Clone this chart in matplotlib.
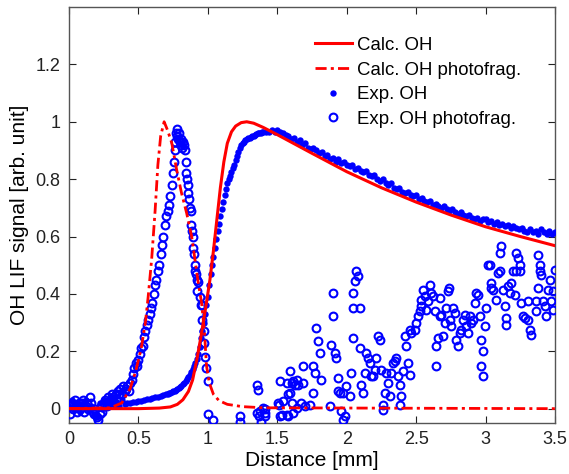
import numpy as np
import matplotlib
matplotlib.use("Agg")
import matplotlib.pyplot as plt

plt.rcParams['font.family'] = ['Liberation Sans', 'DejaVu Sans']

# calculated OH profile
calc_oh_x = [0.0, 0.5, 0.65, 0.73, 0.78, 0.82, 0.86, 0.89, 0.92, 0.95, 0.97, 0.99,
             1.015, 1.04, 1.065, 1.09, 1.115, 1.14, 1.17, 1.2, 1.24, 1.28, 1.33,
             1.4, 1.5, 1.75, 2.0, 2.25, 2.5, 2.75, 3.0, 3.25, 3.5]
calc_oh_y = [0.0, 0.0, 0.002, 0.006, 0.015, 0.031, 0.06, 0.10, 0.17, 0.25, 0.31, 0.37,
             0.45, 0.55, 0.66, 0.77, 0.86, 0.925, 0.965, 0.985, 0.997, 1.0, 0.995,
             0.98, 0.955, 0.89, 0.826, 0.77, 0.72, 0.675, 0.634, 0.6, 0.568]

# calculated OH from photofragmentation
calc_pf_x = [0.0, 0.30, 0.38, 0.44, 0.48, 0.52, 0.55, 0.57, 0.595, 0.62, 0.64, 0.66,
             0.685, 0.71, 0.74, 0.775, 0.81, 0.847, 0.883, 0.907, 0.931, 0.955, 0.975,
             0.99, 1.01, 1.04, 1.08, 1.14, 1.25, 1.40, 3.5]
calc_pf_y = [0.0, 0.003, 0.02, 0.07, 0.13, 0.21, 0.30, 0.39, 0.52, 0.69, 0.85, 0.95,
             1.0, 0.97, 0.926, 0.833, 0.752, 0.682, 0.601, 0.52, 0.438, 0.368, 0.27,
             0.15, 0.09, 0.05, 0.028, 0.015, 0.007, 0.003, 0.0]

# measured OH: 0-0.70 mm every 0.02, 0.71-1.40 every 0.01, 1.42-3.50 every 0.02
exp_oh_y1 = [0.01, 0.03, 0.0, 0.02, -0.01, 0.02, 0.03, 0.0, 0.01, -0.02, -0.03, 0.02,
             0.0, 0.03, 0.01, 0.02, 0.04, 0.02, 0.01, 0.03,
             0.015, 0.018, 0.02, 0.022, 0.024, 0.026, 0.028, 0.03, 0.032, 0.034,
             0.036, 0.039, 0.042, 0.045, 0.048, 0.05]
exp_oh_y2 = [0.052, 0.054, 0.056, 0.058, 0.06, 0.063, 0.066, 0.069, 0.072, 0.076,
             0.08, 0.085, 0.09, 0.096, 0.102, 0.11, 0.118, 0.128, 0.138, 0.148,
             0.16, 0.173, 0.19, 0.215, 0.245, 0.27, 0.30, 0.33, 0.36, 0.39,
             0.43, 0.47, 0.50, 0.53, 0.56, 0.59, 0.62, 0.645, 0.67, 0.695,
             0.72, 0.745, 0.765, 0.785, 0.80, 0.812, 0.825, 0.838, 0.85, 0.865,
             0.88, 0.895, 0.91, 0.918, 0.925, 0.93, 0.935, 0.94, 0.943, 0.945,
             0.948, 0.95, 0.952, 0.955, 0.957, 0.96, 0.962, 0.96, 0.963, 0.965]
exp_oh_y3 = [0.965, 0.965, 0.97, 0.965, 0.97, 0.965, 0.96, 0.955, 0.95, 0.94,
             0.945, 0.93, 0.935, 0.92, 0.925, 0.91, 0.905, 0.91, 0.90, 0.89,
             0.895, 0.88, 0.885, 0.87, 0.875, 0.86, 0.87, 0.855, 0.86, 0.85,
             0.845, 0.85, 0.835, 0.84, 0.83, 0.825, 0.83, 0.815, 0.81, 0.815,
             0.80, 0.795, 0.80, 0.785, 0.78, 0.785, 0.77, 0.765, 0.77, 0.755,
             0.75, 0.755, 0.745, 0.74, 0.745, 0.73, 0.735, 0.725, 0.72, 0.725,
             0.71, 0.715, 0.705, 0.70, 0.705, 0.695, 0.69, 0.695, 0.685, 0.68,
             0.685, 0.675, 0.67, 0.675, 0.665, 0.66, 0.665, 0.655, 0.66, 0.66,
             0.65, 0.655, 0.645, 0.65, 0.64, 0.645, 0.635, 0.64, 0.63, 0.635,
             0.63, 0.625, 0.63, 0.62, 0.615, 0.625, 0.615, 0.62, 0.61, 0.625,
             0.615, 0.61, 0.62, 0.61, 0.615]
exp_oh_x = np.concatenate([np.arange(len(exp_oh_y1)) * 0.02,
                           0.71 + np.arange(len(exp_oh_y2)) * 0.01,
                           1.42 + np.arange(len(exp_oh_y3)) * 0.02])
exp_oh_y = exp_oh_y1 + exp_oh_y2 + exp_oh_y3

# measured OH from photofragmentation
exp_pf_x = [0.0, 0.01, 0.02, 0.03, 0.04, 0.05, 0.06, 0.07, 0.08, 0.09, 0.10, 0.11,
            0.12, 0.13, 0.14, 0.15, 0.16, 0.17, 0.18, 0.19, 0.20, 0.21, 0.22, 0.23,
            0.24, 0.25, 0.26, 0.27, 0.28, 0.29, 0.30, 0.31, 0.32, 0.33, 0.34, 0.35,
            0.36, 0.37, 0.38, 0.39, 0.40,
            0.41, 0.42, 0.43, 0.44, 0.45, 0.46, 0.47, 0.48, 0.49, 0.50, 0.51, 0.52,
            0.53, 0.54, 0.55, 0.56, 0.57, 0.58, 0.59, 0.60, 0.61, 0.62, 0.63, 0.64,
            0.65, 0.66, 0.67, 0.68, 0.69, 0.70, 0.71, 0.72, 0.73, 0.74, 0.75, 0.755,
            0.76, 0.765, 0.77, 0.775, 0.78, 0.785, 0.79, 0.80, 0.805, 0.81, 0.815,
            0.82, 0.83, 0.835, 0.84, 0.845, 0.85, 0.855, 0.86, 0.865, 0.87, 0.875,
            0.88, 0.885, 0.89, 0.895, 0.90, 0.905, 0.91, 0.915, 0.92, 0.925, 0.93,
            0.94, 0.95, 0.96, 0.955, 0.975, 0.975, 0.98, 0.99, 1.0, 1.0, 1.04,
            1.228, 1.231, 1.351, 1.363, 1.371, 1.351, 1.375, 1.384, 1.399, 1.41,
            1.411, 1.411, 1.507, 1.515, 1.519, 1.519, 1.531, 1.543, 1.567, 1.567,
            1.579, 1.58, 1.591, 1.591, 1.603, 1.603, 1.615, 1.615, 1.627, 1.639,
            1.639, 1.651,
            1.686, 1.686, 1.674, 1.758, 1.758, 1.770, 1.806, 1.794, 1.782, 1.818,
            1.734, 1.698, 1.878, 1.890, 1.902, 1.902, 1.914, 1.926, 1.938, 1.938,
            1.950, 1.974, 1.962, 1.974, 1.986, 1.998, 2.022, 2.034, 2.046, 2.046,
            2.058, 2.070, 2.082, 2.094, 2.046, 2.094, 2.106, 2.118, 2.130, 2.142,
            2.154, 2.166, 2.178, 2.190, 2.202, 2.214, 2.226, 2.238, 2.250, 2.262,
            2.262, 2.274, 2.286, 2.298, 2.310, 2.322, 2.333, 2.345, 2.357, 2.369,
            2.381, 2.393, 2.381, 2.405, 2.417, 2.441, 2.453, 2.429, 2.453, 2.465,
            2.489, 2.501, 2.513, 2.525, 2.537, 2.537, 2.549, 2.561, 2.573, 2.585,
            2.597, 2.609, 2.621, 2.633, 2.645, 2.645, 2.657, 2.669, 2.669, 2.681,
            2.693, 2.705, 2.717, 2.729, 2.736, 2.741, 2.753, 2.765, 2.777, 2.789,
            2.801, 2.813, 2.825, 2.837, 2.849, 2.861, 2.873, 2.885, 2.897, 2.909,
            2.921, 2.933, 2.945, 2.957, 2.969, 2.969, 2.981, 2.981, 2.993, 3.005,
            3.017, 3.029, 3.041, 3.041, 3.053, 3.077, 3.089, 3.101, 3.113, 3.101,
            3.125, 3.137, 3.149, 3.149, 3.161, 3.173, 3.185, 3.197, 3.209, 3.221,
            3.233, 3.245, 3.221, 3.245, 3.257, 3.269, 3.281, 3.305, 3.317, 3.329,
            3.305, 3.365, 3.365, 3.377, 3.377, 3.389, 3.389, 3.401, 3.413, 3.425,
            3.437, 3.449, 3.461, 3.473, 3.485, 3.497, 3.485]
exp_pf_y = [0.01, -0.02, 0.02, 0.0, 0.03, 0.01, -0.01, 0.02, 0.0, 0.02, 0.03, -0.01,
            0.01, 0.02, 0.0, 0.04, 0.02, -0.01, -0.02, 0.0, -0.03, -0.04, -0.02, 0.01,
            -0.01, 0.02, 0.03, 0.01, 0.04, 0.02, 0.03, 0.05, 0.04, 0.02, 0.05, 0.06,
            0.05, 0.07, 0.05, 0.08, 0.06,
            0.07, 0.08, 0.06, 0.09, 0.10, 0.12, 0.14, 0.16, 0.15, 0.17, 0.19, 0.21,
            0.22, 0.25, 0.27, 0.29, 0.31, 0.33, 0.35, 0.37, 0.40, 0.43, 0.45, 0.48,
            0.50, 0.54, 0.57, 0.60, 0.64, 0.67, 0.69, 0.71, 0.74, 0.78, 0.82, 0.86,
            0.90, 0.93, 0.96, 0.975, 0.95, 0.94, 0.96, 0.93, 0.92, 0.94, 0.91,
            0.93, 0.92, 0.90, 0.86, 0.82, 0.80, 0.78, 0.75, 0.73, 0.70, 0.69,
            0.64, 0.62, 0.60, 0.56, 0.54, 0.50, 0.48, 0.47, 0.45, 0.41, 0.44,
            0.39, 0.36, 0.36, 0.31, 0.27, 0.23, 0.18, 0.14, 0.095, -0.017, -0.038,
            -0.045, -0.026, 0.084, 0.066, -0.025, -0.015, -0.009, -0.045, 0.003, 0.0,
            -0.015, -0.026, 0.02, 0.012, 0.095, -0.026, -0.021, 0.026, 0.09, -0.021,
            -0.026, 0.05, 0.13, 0.055, 0.09, 0.02, 0.095, -0.015, 0.084, 0.003,
            0.101, 0.084,
            0.148, 0.090, 0.020, 0.055, 0.148, 0.124, 0.194, 0.235, 0.281, 0.101,
            0.014, 0.008, 0.008, 0.223, 0.403, 0.322, 0.194, 0.177, 0.107, 0.061,
            0.055, 0.055, -0.009, -0.038, -0.026, 0.078, 0.043, 0.124, 0.351, 0.403,
            0.444, 0.479, 0.461, 0.351, 0.246, 0.212, 0.084, 0.055, 0.124, 0.194,
            0.177, 0.159, 0.113, 0.113, 0.136, 0.177, 0.252, 0.241, 0.136, 0.014,
            -0.003, 0.055, 0.124, 0.090, 0.043, 0.124, 0.159, 0.165, 0.177, 0.113,
            0.084, 0.043, 0.014, 0.130, 0.252, 0.159, 0.119, 0.217, 0.275, 0.264,
            0.275, 0.299, 0.322, 0.339, 0.357, 0.380, 0.415, 0.391, 0.345, 0.374,
            0.432, 0.403, 0.391, 0.339, 0.148, 0.217, 0.246, 0.322, 0.386, 0.328,
            0.252, 0.299, 0.351, 0.409, 0.420, 0.310, 0.287, 0.351, 0.334, 0.241,
            0.217, 0.264, 0.275, 0.310, 0.328, 0.287, 0.264, 0.322, 0.299, 0.310,
            0.368, 0.403, 0.397, 0.322, 0.241, 0.148, 0.113, 0.200, 0.287, 0.351,
            0.502, 0.502, 0.420, 0.438, 0.415, 0.380, 0.473, 0.479, 0.566, 0.542,
            0.415, 0.357, 0.316, 0.293, 0.426, 0.403, 0.438, 0.479, 0.397, 0.542,
            0.525, 0.502, 0.479, 0.479, 0.368, 0.322, 0.316, 0.310, 0.275, 0.258,
            0.374, 0.374, 0.339, 0.420, 0.537, 0.502, 0.479, 0.467, 0.374, 0.357,
            0.322, 0.415, 0.450, 0.374, 0.345, 0.484, 0.409]

xticks = [0, 0.5, 1, 1.5, 2, 2.5, 3, 3.5]
xtick_labels = ['0', '0.5', '1', '1.5', '2', '2.5', '3', '3.5']
yticks = [0, 0.2, 0.4, 0.6, 0.8, 1.0, 1.2]
ytick_labels = ['0', '0.2', '0.4', '0.6', '0.8', '1', '1.2']

fig = plt.figure(figsize=(5.69, 4.74), dpi=100)
ax = fig.add_axes([0.1213, 0.1076, 0.8541, 0.8776])

ax.plot(calc_oh_x, calc_oh_y, '-', color='red', lw=2.2, zorder=4,
        label='Calc. OH')
ax.plot(calc_pf_x, calc_pf_y, color='red', lw=2.0, dashes=(4.0, 1.5, 1.1, 1.5),
        zorder=4, label='Calc. OH photofrag.')
ax.plot(exp_oh_x, exp_oh_y, 'o', color='blue', ms=4.6, mew=0, zorder=3,
        label='Exp. OH')
ax.plot(exp_pf_x, exp_pf_y, 'o', mfc='none', mec='blue', ms=5.6, mew=1.5,
        zorder=3, label='Exp. OH photofrag.')

ax.set_xlim(0, 3.5)
ax.set_ylim(-0.05, 1.4)
ax.set_xticks(xticks)
ax.set_xticklabels(xtick_labels)
ax.set_yticks(yticks)
ax.set_yticklabels(ytick_labels)
ax.tick_params(direction='in', length=5, width=0.8, top=True, right=True,
               labelsize=13, colors='#222222', pad=6)
for sp in ax.spines.values():
    sp.set_color('#555555')
    sp.set_linewidth(1.0)

ax.set_xlabel('Distance [mm]', fontsize=15, labelpad=2)
ax.set_ylabel('OH LIF signal [arb. unit]', fontsize=15, labelpad=5)

leg = ax.legend(loc='upper right', bbox_to_anchor=(0.953, 0.955), frameon=False,
                fontsize=13.4, handlelength=2.0, handletextpad=0.27,
                labelspacing=0.41, borderaxespad=0.2)

fig.savefig('out.png', dpi=100)
